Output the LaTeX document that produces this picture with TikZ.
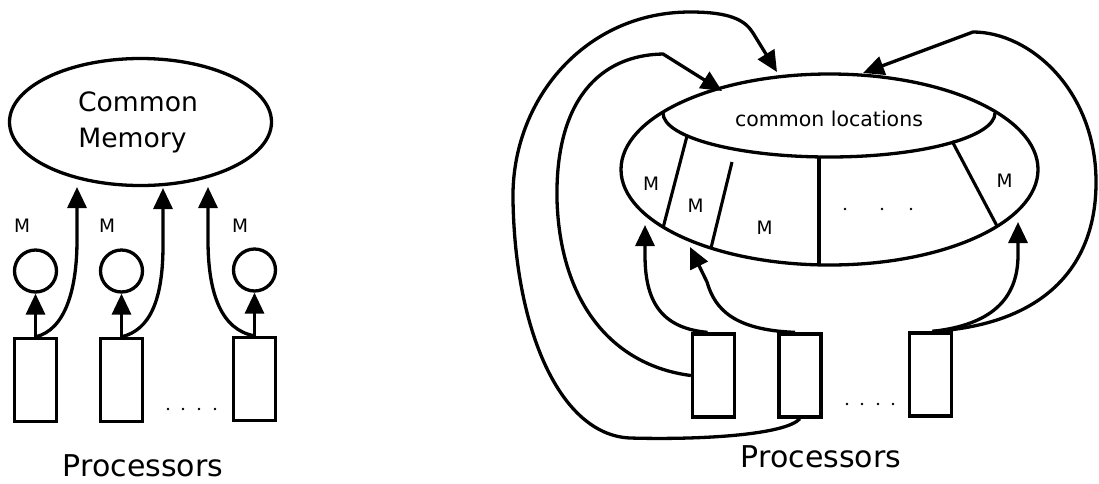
\documentclass[tikz,border=0pt]{standalone}
\usepackage{fontspec}
\setmainfont{DejaVu Sans}
\usetikzlibrary{shapes.geometric,arrows.meta}
\begin{document}
\begin{tikzpicture}[x=1pt,y=-1pt,line width=3.3pt,
  tip/.style={-{Triangle[length=21pt,width=19pt]}},
  proc/.style={draw,rectangle,minimum width=42pt,minimum height=83pt,inner sep=0pt},
  loc/.style={draw,circle,minimum size=42pt,inner sep=0pt},
  mlab/.style={font=\fontsize{18.5}{19}\selectfont,inner sep=0pt,anchor=base},
  bigtxt/.style={font=\fontsize{26.6}{27}\selectfont,inner sep=0pt,anchor=base},
  proctxt/.style={font=\fontsize{30}{30}\selectfont,inner sep=0pt,anchor=base},
  loctxt/.style={font=\fontsize{20.5}{21}\selectfont,inner sep=0pt,anchor=base},
  dot/.style={circle,fill,inner sep=0pt,minimum size=2.8pt},
  part/.style={line width=3.1pt}]
\fill[white] (0,0) rectangle (1099,483);
\useasboundingbox (0,0) rectangle (1099,483);

% ---------------- left diagram ----------------
\node[draw,ellipse,minimum width=262pt,minimum height=127pt,inner sep=0pt] (cm) at (140.5,122) {};
\node[bigtxt] (cmt1) at (138,111) {Common};
\node[bigtxt] (cmt2) at (132.5,147) {Memory};

\node[proc] (p1) at (35.5,380) {};
\node[proc] (p2) at (121.5,380) {};
\node[proc] (p3) at (254.5,379) {};
\node[loc] (m1) at (35.5,271) {};
\node[loc] (m2) at (121.5,271) {};
\node[loc] (m3) at (254.5,270) {};
\node[mlab] (ml1) at (22,232) {M};
\node[mlab] (ml2) at (107,232) {M};
\node[mlab] (ml3) at (240,232) {M};

\draw[tip] (p1.north) -- (m1.south);
\draw[tip] (p2.north) -- (m2.south);
\draw[tip] (p3.north) -- (m3.south);

\coordinate (lt1) at (77,187);
\coordinate (lt2) at (163,188);
\coordinate (lt3) at (208,187);
\draw[tip] (p1.north) .. controls (65,330) and (77,290) .. (77,240) -- (lt1);
\draw[tip] (p2.north) .. controls (150,330) and (163,300) .. (163,245) -- (lt2);
\draw[tip] (p3.north) .. controls (222,330) and (208,295) .. (208,240) -- (lt3);

\foreach \x [count=\i] in {168,183,199,215} \node[dot] (ld\i) at (\x,409) {};
\node[proctxt] (lproc) at (143,476) {Processors};

% ---------------- right diagram ----------------
\node[draw,ellipse,minimum width=417pt,minimum height=191pt,inner sep=0pt] (outer) at (829.5,169.5) {};
\draw (663,113) arc[start angle=180,end angle=360,x radius=166pt,y radius=44pt];
\node[loctxt] (loc) at (829,126) {common locations};

\draw[part] (687,136) -- (663,228);
\draw[part] (732,162) -- (711,248);
\draw[part] (819,157) -- (819,265);
\draw[part] (952,141) -- (997,226);

\node[mlab] (rm1) at (651,190) {M};
\node[mlab] (rm2) at (695.5,212) {M};
\node[mlab] (rm3) at (764.5,234) {M};
\node[mlab] (rm4) at (1004.5,187) {M};
\foreach \x [count=\i] in {845,882,911} \node[dot] (ed\i) at (\x,209) {};

\node[proc] (r1) at (713.5,375.5) {};
\node[proc] (r2) at (800,375.5) {};
\node[proc] (r3) at (930.5,374.5) {};
\foreach \x [count=\i] in {847,862,878,893} \node[dot] (rd\i) at (\x,404) {};
\node[proctxt] (rproc) at (821,467) {Processors};

% arrows into the memory ring from below
\coordinate (d1) at (645,225);
\coordinate (d2) at (690,247);
\coordinate (d3) at (1018,222);
\draw[tip] ([xshift=-6pt]r1.north) .. controls (660,328) and (645,300) .. (645,255) -- (d1);
\draw[tip] ([xshift=-5pt]r2.north) .. controls (735,330) and (715,310) .. (707,282) -- (d2);
\draw[tip] ([xshift=2pt]r3.north) .. controls (990,325) and (1018,300) .. (1018,255) -- (d3);

% long arrows into the common locations
\coordinate (ta) at (777,72);
\coordinate (tb) at (722,91);
\coordinate (tc) at (863,73);
\draw[tip] (r2.south) .. controls (785,435) and (700,440) .. (630,438)
  .. controls (560,435) and (515,330) .. (513,200)
  .. controls (511,100) and (585,12) .. (690,12)
  .. controls (730,12) and (745,20) .. (753,33) -- (ta);
\draw[tip] (r1.west) .. controls (610,365) and (560,300) .. (557,200)
  .. controls (555,100) and (600,55) .. (663,54) -- (tb);
\draw[tip] ([xshift=2pt]r3.north) .. controls (1040,325) and (1097,270) .. (1096,180)
  .. controls (1095,90) and (1030,32) .. (973,32) -- (tc);
\end{tikzpicture}
\end{document}
